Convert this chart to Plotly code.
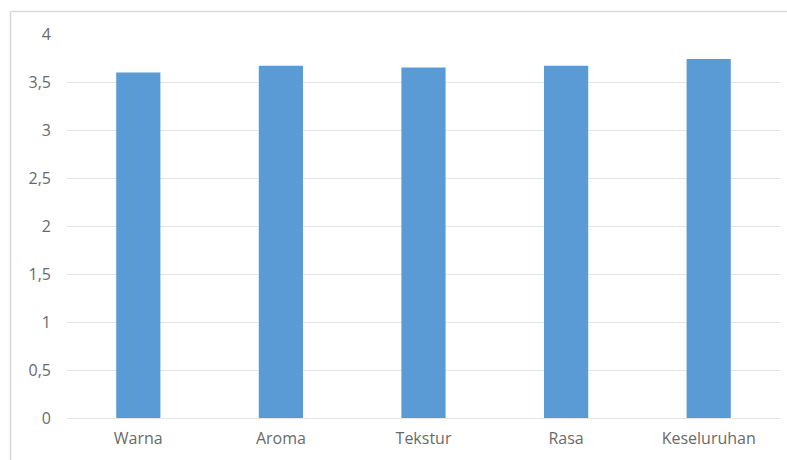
import plotly.graph_objects as go

# Mean sensory scores per attribute
categories = ["Warna", "Aroma", "Tekstur", "Rasa", "Keseluruhan"]
scores = [3.60, 3.67, 3.65, 3.67, 3.74]

# Y-axis ticks with comma decimal separator
y_tickvals = [0, 0.5, 1, 1.5, 2, 2.5, 3, 3.5, 4]
y_ticktext = ["0", "0,5", "1", "1,5", "2", "2,5", "3", "3,5", "4"]

W, H = 787, 460
L, R, T, B = 67, 7, 34, 42
pw, ph = W - L - R, H - T - B

fig = go.Figure(
    go.Bar(
        x=categories,
        y=scores,
        marker=dict(color="#5B9BD5", line=dict(width=0)),
        width=0.31,
    )
)

grey = "#6a6a6a"
fig.update_layout(
    width=W,
    height=H,
    margin=dict(l=L, r=R, t=T, b=B),
    paper_bgcolor="white",
    plot_bgcolor="white",
    showlegend=False,
    font=dict(family="Open Sans, Noto Sans, sans-serif", size=16, color=grey),
    xaxis=dict(
        showgrid=False,
        showline=False,
        ticks="",
        tickfont=dict(size=16, color=grey),
        ticklabelstandoff=9,
    ),
    yaxis=dict(
        range=[0, 4],
        tickvals=y_tickvals,
        ticktext=y_ticktext,
        showgrid=True,
        gridcolor="#e5e5e5",
        gridwidth=1,
        zeroline=True,
        zerolinecolor="#e5e5e5",
        zerolinewidth=1,
        showline=False,
        ticks="",
        tickfont=dict(size=16, color=grey),
        ticklabelstandoff=15,
    ),
)

# Chart-area border (left and top edges visible)
bx = (10.5 - L) / pw
by = 1 + (T - 11.5) / ph
fig.add_shape(type="line", xref="paper", yref="paper",
              x0=bx, x1=bx, y0=by, y1=-(H - (T + ph)) / ph - 0.02,
              line=dict(color="#d9d9d9", width=1.5))
fig.add_shape(type="line", xref="paper", yref="paper",
              x0=bx, x1=(W - L) / pw + 0.02, y0=by, y1=by,
              line=dict(color="#d9d9d9", width=1.5))

fig.write_html("out.html")
